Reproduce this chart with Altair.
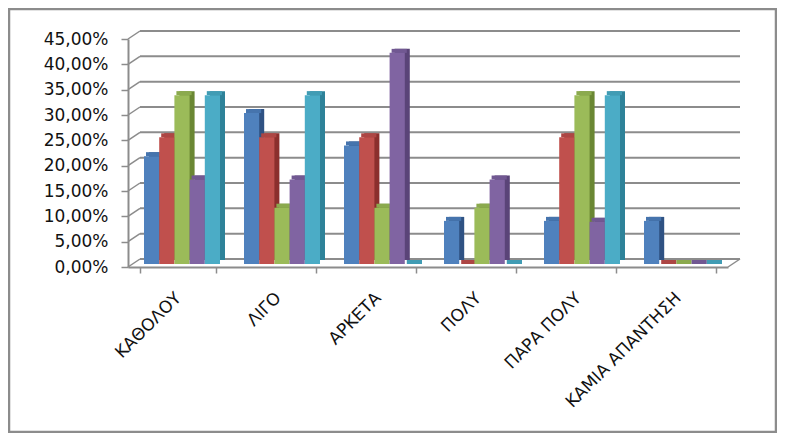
import altair as alt
import pandas as pd

CATEGORIES = ["ΚΑΘΟΛΟΥ", "ΛΙΓΟ", "ΑΡΚΕΤΑ", "ΠΟΛΥ", "ΠΑΡΑ ΠΟΛΥ", "ΚΑΜΙΑ ΑΠΑΝΤΗΣΗ"]
SERIES = ["Σειρά 1", "Σειρά 2", "Σειρά 3", "Σειρά 4", "Σειρά 5"]
S1 = [21.28, 29.79, 23.40, 8.51, 8.51, 8.51]
S2 = [25.00, 25.00, 25.00, 0.00, 25.00, 0.00]
S3 = [33.33, 11.11, 11.11, 11.11, 33.33, 0.00]
S4 = [16.67, 16.67, 41.67, 16.67, 8.33, 0.00]
S5 = [33.33, 33.33, 0.00, 0.00, 33.33, 0.00]
Y_TICKS = [0, 5, 10, 15, 20, 25, 30, 35, 40, 45]

FRONT = ["#4F81BD", "#C0504D", "#9BBB59", "#8064A2", "#4BACC6"]
TOP = ["#4674AD", "#AD4644", "#8BAA4E", "#715892", "#419CB4"]
SIDE = ["#2F5283", "#8B2F2D", "#6A8733", "#5A4478", "#2E8299"]
GRID = "#8C8C8C"
FONT = "DejaVu Sans"

rows = []
for s, vals in zip(SERIES, [S1, S2, S3, S4, S5]):
    for c, v in zip(CATEGORIES, vals):
        rows.append({"cat": c, "series": s, "value": v})
df = pd.DataFrame(rows)
grid_df = pd.DataFrame({"t": Y_TICKS})
floor_df = pd.DataFrame({"t": Y_TICKS[:1]})
one_df = pd.DataFrame({"k": [0]})

W_RANGE = 600
DEPTH_X = 12
DEPTH_Y = 8
PLOT_H = 228
GROUP_W = 76  # bandwidth = 100 * (1 - 0.24)

yscale = alt.Scale(domain=[0, 45], nice=False, zero=True)
xscale = alt.Scale(range=[0, W_RANGE], paddingInner=0.24, paddingOuter=0.12)

x_axis = alt.Axis(
    title=None, labelAngle=-45, labelAlign="right", labelBaseline="middle",
    labelPadding=22, tickBand="extent", tickSize=6, tickColor=GRID,
    domainColor=GRID, domainWidth=2, tickWidth=1.5,
    labelFont=FONT, labelFontSize=17, labelColor="#111111",
)
y_axis = alt.Axis(
    title=None, values=Y_TICKS, grid=False, tickSize=7, tickColor=GRID,
    domainColor=GRID, domainWidth=2, tickWidth=1.5, labelPadding=13,
    labelFont=FONT, labelFontSize=17, labelColor="#111111",
    labelExpr="replace(format(datum.value, '.2f'), '.', ',') + '%'",
)


def x_enc():
    return alt.X("cat:N", sort=CATEGORIES, scale=xscale, axis=x_axis)


def xoff(shift):
    return alt.XOffset(
        "series:N", sort=SERIES,
        scale=alt.Scale(range=[shift, GROUP_W + shift], paddingInner=0, paddingOuter=0),
    )


def y_enc(field):
    return alt.Y(field, scale=yscale, axis=y_axis)


back_grid = alt.Chart(grid_df).mark_rule(
    color=GRID, strokeWidth=2, yOffset=-DEPTH_Y, y2Offset=-DEPTH_Y
).encode(
    x=alt.value(DEPTH_X), x2=alt.value(W_RANGE + DEPTH_X),
    y=y_enc("t:Q"), y2="t:Q",
)

left_diag = alt.Chart(grid_df).mark_rule(
    color=GRID, strokeWidth=1.5, y2Offset=-DEPTH_Y
).encode(
    x=alt.value(0), x2=alt.value(DEPTH_X),
    y=y_enc("t:Q"), y2="t:Q",
)

floor_diag = alt.Chart(floor_df).mark_rule(
    color=GRID, strokeWidth=1.5, y2Offset=-DEPTH_Y
).encode(
    x=alt.value(W_RANGE), x2=alt.value(W_RANGE + DEPTH_X),
    y=y_enc("t:Q"), y2="t:Q",
)

side = alt.Chart(df).mark_bar(yOffset=-7, y2Offset=-3).encode(
    x=x_enc(), xOffset=xoff(9),
    y=y_enc("value:Q"),
    color=alt.Color("series:N", scale=alt.Scale(domain=SERIES, range=SIDE), legend=None),
)

top = alt.Chart(df).mark_bar(yOffset=-7, y2Offset=-3).encode(
    x=x_enc(), xOffset=xoff(6),
    y=y_enc("value:Q"), y2="value:Q",
    color=alt.Color("series:N", scale=alt.Scale(domain=SERIES, range=TOP), legend=None),
)

front = alt.Chart(df).mark_bar(yOffset=-3, y2Offset=-3).encode(
    x=x_enc(), xOffset=xoff(4),
    y=y_enc("value:Q"),
    color=alt.Color("series:N", scale=alt.Scale(domain=SERIES, range=FRONT), legend=None),
)

frame = alt.Chart(one_df).mark_rect(
    fill="transparent", stroke="#8C8C8C", strokeWidth=2.5
).encode(
    x=alt.value(-119), x2=alt.value(648), y=alt.value(-30), y2=alt.value(393),
)

chart = alt.layer(
    back_grid, left_diag, floor_diag, side, top, front, frame
).resolve_scale(color="independent", xOffset="independent").properties(
    width=W_RANGE + DEPTH_X, height=PLOT_H,
    autosize=alt.AutoSizeParams(type="none"),
    padding={"left": 120, "top": 31, "right": 37, "bottom": 166},
    background="white",
).configure_view(stroke=None)

chart.save("out.html", embed_options={"renderer": "svg", "actions": False})
